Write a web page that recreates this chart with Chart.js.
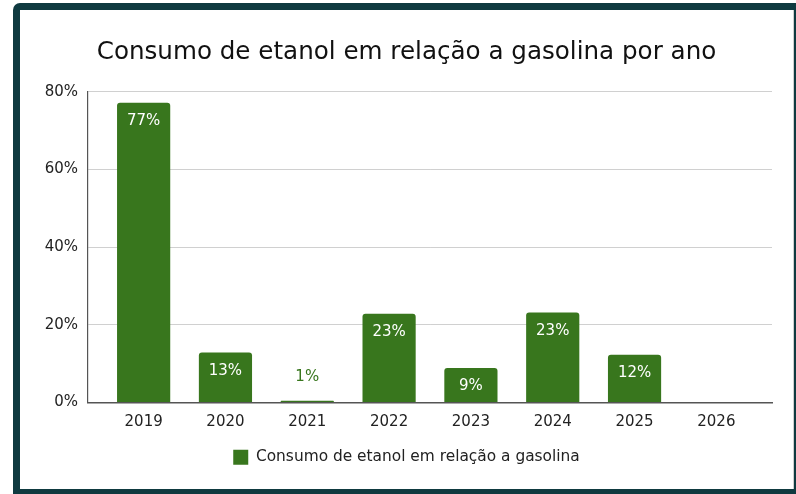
<!DOCTYPE html>
<html>
<head>
<meta charset="utf-8">
<script src="https://cdn.jsdelivr.net/npm/chart.js@4.4.0/dist/chart.umd.min.js"></script>
<style>
  body { margin: 0; background: #fff; width: 796px; height: 494px; overflow: hidden; position: relative; }
  .frame { position: absolute; left: 13px; top: 3px; width: 800px; height: 500px; background: #0f3a40; border-radius: 7px; }
  .panel { position: absolute; left: 20px; top: 10px; width: 773px; height: 479px; background: #fff; border-right: 1px solid #cfcfcf; }
  #myChart { position: absolute; left: 0; top: 0; }
</style>
</head>
<body>
<div class="frame"></div>
<div class="panel">
  <canvas id="myChart" width="773" height="479"></canvas>
</div>
<script>
// dados do grafico
const anos = ['2019', '2020', '2021', '2022', '2023', '2024', '2025', '2026'];
const consumo = [77.2, 12.9, 0.5, 22.9, 8.9, 23.2, 12.3, 0];
const ticksY = [0, 20, 40, 60, 80];

const verde = '#38761d';
Chart.defaults.font.family = '"DejaVu Sans", Verdana, sans-serif';
Chart.defaults.color = '#222';

// rotulos de valor em cima das barras
const rotulos = {
  id: 'rotulos',
  afterDatasetsDraw(chart) {
    const ctx = chart.ctx;
    const meta = chart.getDatasetMeta(0);
    ctx.save();
    ctx.font = '15px "DejaVu Sans", Verdana, sans-serif';
    ctx.textAlign = 'center';
    ctx.textBaseline = 'middle';
    meta.data.forEach(function (bar, i) {
      const v = consumo[i];
      if (!v) return;
      const txt = Math.round(v) + '%';
      const h = bar.base - bar.y;
      if (h > 25) {
        ctx.fillStyle = '#fff';
        ctx.fillText(txt, bar.x, bar.y + 18.5);
      } else {
        ctx.fillStyle = verde;
        ctx.fillText(txt, bar.x, bar.y - 24);
      }
    });
    ctx.restore();
  }
};

const ctx = document.getElementById('myChart');
new Chart(ctx, {
  type: 'bar',
  data: {
    datasets: [{
      label: 'Consumo de etanol em relação a gasolina',
      data: consumo.map(function (v, i) { return { x: i, y: v }; }),
      backgroundColor: verde,
      borderRadius: { topLeft: 3, topRight: 3 },
      borderSkipped: 'start',
      barPercentage: 0.65,
      categoryPercentage: 1
    }]
  },
  options: {
    responsive: false,
    animation: false,
    layout: { padding: { left: 21, right: 21, top: 0, bottom: 14 } },
    scales: {
      x: {
        type: 'linear',
        offset: false,
        min: -0.68,
        max: 7.68,
        afterBuildTicks: function (scale) {
          scale.ticks = anos.map(function (a, i) { return { value: i }; });
        },
        ticks: {
          font: { size: 15 },
          color: '#222',
          padding: 11,
          callback: function (v) { return anos[v]; }
        },
        grid: { display: false, drawTicks: false },
        border: { display: true, color: '#555', width: 1.5 }
      },
      y: {
        min: 0,
        max: 80,
        afterBuildTicks: function (scale) {
          scale.ticks = ticksY.map(function (t) { return { value: t }; });
        },
        afterFit: function (scale) { scale.width = 47; },
        ticks: {
          font: { size: 15 },
          color: '#222',
          padding: 10,
          callback: function (v) { return v + '%'; }
        },
        grid: { color: '#d0d0d0', drawTicks: false },
        border: { display: true, color: '#555', width: 1.2 }
      }
    },
    plugins: {
      title: {
        display: true,
        text: 'Consumo de etanol em relação a gasolina por ano',
        color: '#111',
        font: { size: 24.6, weight: 'normal' },
        padding: { top: 28, bottom: 24.4 }
      },
      legend: {
        position: 'bottom',
        labels: {
          font: { size: 15.4 },
          color: '#222',
          boxWidth: 15,
          boxHeight: 15,
          padding: 7
        }
      },
      tooltip: { enabled: false }
    }
  },
  plugins: [rotulos]
});
</script>
</body>
</html>
